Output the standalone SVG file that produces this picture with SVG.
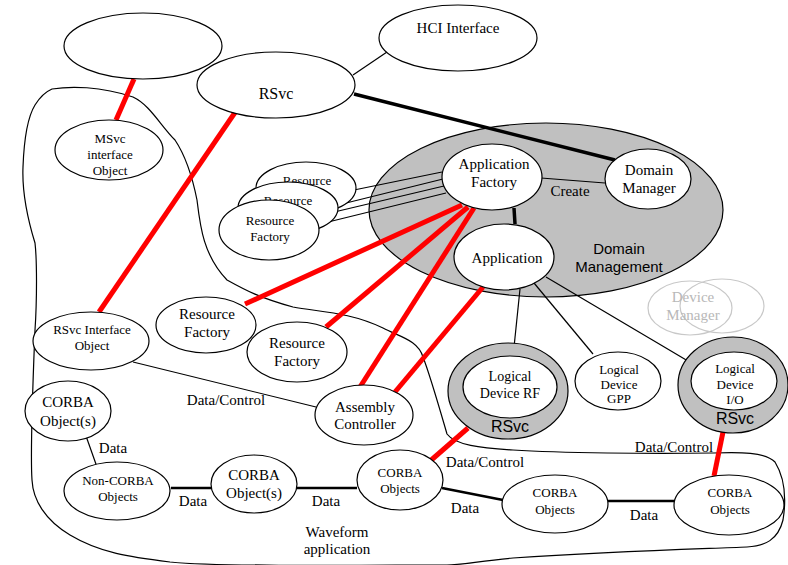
<svg xmlns="http://www.w3.org/2000/svg" width="788" height="565" viewBox="0 0 788 565">
<style>
  .n { fill: #fff; stroke: #000; stroke-width: 1.2; }
  .g { fill: #c0c0c0; stroke: #000; stroke-width: 1.2; }
  text { font-family: 'Liberation Serif', 'DejaVu Serif', 'Times New Roman', serif; font-size: 15px; text-anchor: middle; fill: #000; }
  text.s { font-size: 13px; }
  text.ss { font-family: 'Liberation Sans', Arial, sans-serif; }
  .red { stroke: #ff0000; stroke-width: 5; fill: none; }
  .thin { stroke: #000; stroke-width: 1.2; fill: none; }
  .thick { stroke: #000; stroke-width: 3.5; fill: none; }
  .mid { stroke: #000; stroke-width: 2.5; fill: none; }
  .lt { fill: none; stroke: #c8c8c8; stroke-width: 1.2; }
</style>

<g id="waveform-boundary">
  <path class="thin" d="M52,89 C70,86 100,86 133,97 C150,105 160,125 175,140 C185,155 192,175 197,200 C200,225 203,255 227,280 C245,290 260,298 293,307 C320,312 350,312 383,328 C400,337 418,340 423,357 C430,375 440,410 447,434 C455,445 480,448 513,450 C560,453 650,454 713,453 C740,452 765,452 775,462 C783,475 787,495 783,520 C778,540 765,546 747,547 C700,549 620,551 513,558 C480,561 460,565 447,565 C400,565 320,566 267,565 C220,565 190,564 170,562 C130,557 100,553 70,535 C45,520 33,500 32,480 C30,450 33,380 35,330 C37,300 37,260 35,243 C28,220 22,190 23,167 C24,140 27,118 35,105 C40,97 45,92 52,89 Z"/>
  <text x="337" y="537" font-family="Liberation Serif, serif">Waveform</text>
  <text x="337" y="554" font-family="Liberation Serif, serif">application</text>
</g>

<g id="domain-management">
  <ellipse class="g" cx="546" cy="210" rx="177" ry="87"/>
  <text class="ss" x="619" y="254">Domain</text>
  <text class="ss" x="619" y="272">Management</text>
</g>

<g id="connectors">
  <line class="thin" x1="353" y1="75" x2="387" y2="52"/>
  <line class="thick" x1="354" y1="94" x2="615" y2="160"/>
  <line class="red" x1="134" y1="79" x2="116" y2="120"/>
  <line class="red" x1="236" y1="111" x2="99" y2="312"/>
  <line class="thin" x1="354" y1="190" x2="442" y2="172"/>
  <line class="thin" x1="338" y1="205" x2="443" y2="179"/>
  <line class="thin" x1="330" y1="213" x2="444" y2="186"/>
  <line class="thin" x1="320" y1="224" x2="446" y2="193"/>
  <line class="thin" x1="541" y1="178" x2="605" y2="183"/>
  <text x="570" y="196">Create</text>
  <line class="thick" x1="514" y1="208" x2="515" y2="224"/>
  <line class="red" x1="462" y1="205" x2="245" y2="304"/>
  <line class="red" x1="468" y1="207" x2="326" y2="327"/>
  <line class="red" x1="474" y1="208" x2="360" y2="387"/>
  <line class="red" x1="483" y1="287" x2="395" y2="392"/>
  <line class="thin" x1="520" y1="289" x2="513" y2="357"/>
  <line class="thin" x1="534" y1="283" x2="593" y2="354"/>
  <line class="thin" x1="546" y1="277" x2="693" y2="364"/>
  <line class="thin" x1="133" y1="362" x2="316" y2="407"/>
  <text x="226" y="405">Data/Control</text>
  <line class="thin" x1="86" y1="436" x2="97" y2="467"/>
  <text x="113" y="453">Data</text>
  <line class="mid" x1="171" y1="488" x2="211" y2="488"/>
  <text x="193" y="506">Data</text>
  <line class="mid" x1="297" y1="488" x2="357" y2="488"/>
  <text x="326" y="506">Data</text>
  <line class="red" x1="429" y1="462" x2="468" y2="428"/>
  <text x="485" y="467">Data/Control</text>
  <line class="mid" x1="442" y1="488" x2="503" y2="500"/>
  <text x="465" y="513">Data</text>
  <line class="mid" x1="608" y1="501" x2="675" y2="501"/>
  <text x="644" y="520">Data</text>
  <line class="red" x1="723" y1="432" x2="714" y2="476"/>
  <text x="674" y="452">Data/Control</text>
</g>

<g id="unnamed-top">
  <ellipse class="n" cx="143" cy="46" rx="79" ry="33"/>
</g>
<g id="hci-interface">
  <ellipse class="n" cx="458" cy="38" rx="79" ry="33"/>
  <text x="458" y="33">HCI Interface</text>
</g>
<g id="rsvc">
  <ellipse class="n" cx="276" cy="85" rx="79" ry="33"/>
  <text x="276" y="99" style="font-size:16px">RSvc</text>
</g>
<g id="msvc-interface">
  <ellipse class="n" cx="109" cy="150" rx="54" ry="30"/>
  <text class="s" x="110" y="143">MSvc</text>
  <text class="s" x="110" y="159">interface</text>
  <text class="s" x="110" y="175">Object</text>
</g>
<g id="resource-stack">
  <ellipse class="n" cx="306" cy="188" rx="50" ry="26"/>
  <text class="s" x="307" y="185">Resource</text>
  <ellipse class="n" cx="288" cy="208" rx="50" ry="26"/>
  <text class="s" x="288" y="205">Resource</text>
  <ellipse class="n" cx="269" cy="230" rx="50" ry="30"/>
  <text class="s" x="270" y="225">Resource</text>
  <text class="s" x="270" y="241">Factory</text>
</g>
<g id="application-factory">
  <ellipse class="n" cx="492" cy="177" rx="50" ry="33"/>
  <text x="494" y="169">Application</text>
  <text x="494" y="187">Factory</text>
</g>
<g id="domain-manager">
  <ellipse class="n" cx="648" cy="179" rx="43" ry="30"/>
  <text x="649" y="175">Domain</text>
  <text x="649" y="193">Manager</text>
</g>
<g id="application">
  <ellipse class="n" cx="504" cy="257" rx="50" ry="33"/>
  <text x="507" y="263">Application</text>
</g>
<g id="device-manager">
  <ellipse class="lt" cx="690" cy="308" rx="42" ry="27"/>
  <ellipse class="lt" cx="722" cy="306" rx="42" ry="27"/>
  <text x="693" y="302" style="fill:#b8b8b8">Device</text>
  <text x="693" y="320" style="fill:#b8b8b8">Manager</text>
</g>
<g id="rsvc-interface-object">
  <ellipse class="n" cx="91" cy="341" rx="58" ry="29"/>
  <text class="s" x="92" y="334">RSvc Interface</text>
  <text class="s" x="92" y="350">Object</text>
</g>
<g id="resource-factory-1">
  <ellipse class="n" cx="206" cy="325" rx="50" ry="28"/>
  <text x="207" y="319">Resource</text>
  <text x="207" y="337">Factory</text>
</g>
<g id="resource-factory-2">
  <ellipse class="n" cx="297" cy="352" rx="50" ry="30"/>
  <text x="297" y="348">Resource</text>
  <text x="297" y="366">Factory</text>
</g>
<g id="assembly-controller">
  <ellipse class="n" cx="364" cy="415" rx="49" ry="30"/>
  <text x="365" y="412">Assembly</text>
  <text x="365" y="429">Controller</text>
</g>
<g id="logical-device-rf">
  <ellipse class="g" cx="508" cy="391" rx="60" ry="48"/>
  <ellipse class="n" cx="510" cy="387" rx="47" ry="31"/>
  <text x="510" y="381" style="font-size:14px">Logical</text>
  <text x="510" y="398" style="font-size:14px">Device RF</text>
  <text class="ss" x="510" y="432" style="font-size:16px">RSvc</text>
</g>
<g id="logical-device-gpp">
  <ellipse class="n" cx="618" cy="381" rx="43" ry="29"/>
  <text class="s" x="619" y="374">Logical</text>
  <text class="s" x="619" y="389">Device</text>
  <text class="s" x="619" y="403">GPP</text>
</g>
<g id="logical-device-io">
  <ellipse class="g" cx="733" cy="385" rx="55" ry="48"/>
  <ellipse class="n" cx="734" cy="381" rx="43" ry="29"/>
  <text class="s" x="735" y="373">Logical</text>
  <text class="s" x="735" y="389">Device</text>
  <text class="s" x="735" y="404">I/O</text>
  <text class="ss" x="735" y="424" style="font-size:16px">RSvc</text>
</g>
<g id="corba-objects-left">
  <ellipse class="n" cx="68" cy="411" rx="43" ry="30"/>
  <text x="68" y="407">CORBA</text>
  <text x="68" y="426">Object(s)</text>
</g>
<g id="non-corba-objects">
  <ellipse class="n" cx="117" cy="491" rx="53" ry="29"/>
  <text class="s" x="118" y="485">Non-CORBA</text>
  <text class="s" x="118" y="501">Objects</text>
</g>
<g id="corba-objects-mid">
  <ellipse class="n" cx="254" cy="484" rx="43" ry="29"/>
  <text x="254" y="480">CORBA</text>
  <text x="254" y="498">Object(s)</text>
</g>
<g id="corba-objects-1">
  <ellipse class="n" cx="400" cy="480" rx="43" ry="30"/>
  <text class="s" x="400" y="477">CORBA</text>
  <text class="s" x="400" y="493">Objects</text>
</g>
<g id="corba-objects-2">
  <ellipse class="n" cx="555" cy="504" rx="53" ry="29"/>
  <text class="s" x="555" y="497">CORBA</text>
  <text class="s" x="555" y="514">Objects</text>
</g>
<g id="corba-objects-3">
  <ellipse class="n" cx="729" cy="505" rx="55" ry="30"/>
  <text class="s" x="730" y="497">CORBA</text>
  <text class="s" x="730" y="514">Objects</text>
</g>
</svg>
